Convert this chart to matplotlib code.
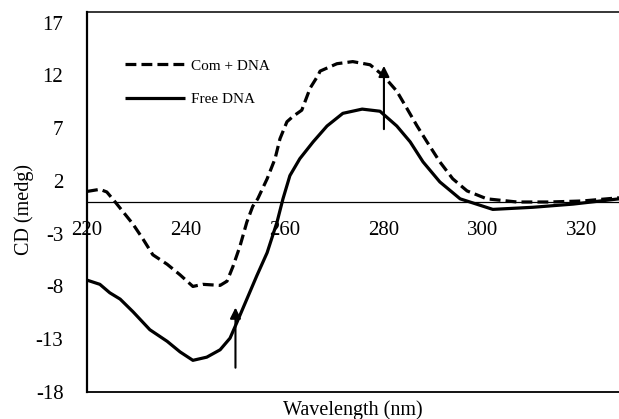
import numpy as np
import matplotlib
matplotlib.use('Agg')
import matplotlib.pyplot as plt

# ---------------------------------
# Datos
# ---------------------------------

wl_com = [220, 222.6, 224.0, 225.7, 229.3, 231.3, 233.3, 236.2, 238.8, 241.4,
          243.4, 246.9, 248.3, 249.5, 250.9, 252.3, 253.5, 254.5, 256.4, 258.0,
          259.0, 260.4, 261.6, 263.4, 265.1, 266.7, 267.1, 270.5, 273.7, 277.2,
          279.8, 282.6, 284.6, 286.7, 288.7, 291.3, 293.9, 296.8, 300.8, 306.9,
          313.5, 320.2, 327.5]
cd_com = [1.0, 1.2, 0.95, 0.0, -2.1, -3.5, -5.0, -5.9, -6.9, -8.0,
          -7.8, -7.9, -7.5, -6.1, -4.2, -1.9, -0.4, 0.3, 2.2, 4.1,
          6.0, 7.6, 8.1, 8.7, 10.8, 12.0, 12.4, 13.1, 13.3, 13.0,
          12.0, 10.5, 8.9, 7.2, 5.7, 3.8, 2.2, 1.05, 0.3, 0.0,
          0.0, 0.1, 0.4]

wl_free = [220, 222.6, 224.6, 226.7, 229.3, 232.7, 236.2, 238.8, 241.4, 244.2,
           246.9, 248.9, 250.3, 252.3, 254.3, 256.4, 258.4, 259.6, 261.0, 263.0,
           265.7, 268.5, 271.7, 275.6, 279.2, 282.6, 285.3, 287.9, 291.3, 295.4,
           302.0, 310.1, 318.2, 327.5]
cd_free = [-7.4, -7.8, -8.6, -9.2, -10.4, -12.1, -13.2, -14.2, -15.0, -14.7,
           -14.0, -12.9, -11.4, -9.2, -7.0, -4.8, -1.9, 0.3, 2.5, 4.1,
           5.7, 7.2, 8.4, 8.8, 8.6, 7.2, 5.7, 3.8, 1.9, 0.3,
           -0.7, -0.5, -0.2, 0.3]

# flechas: x, y inicio, y punta
arrow_x = [250, 280]
arrow_y0 = [-15.7, 6.9]
arrow_y1 = [-10.0, 12.9]

xticks = [220, 240, 260, 280, 300, 320]
yticks = [-18, -13, -8, -3, 2, 7, 12, 17]

# ---------------------------------
# Gráfico
# ---------------------------------

plt.rcParams['font.family'] = ['Liberation Serif', 'DejaVu Serif']
plt.rcParams['axes.unicode_minus'] = False

fig = plt.figure(figsize=(6.19, 4.19), dpi=100)
ax = fig.add_axes([87/619, 27/419, 1 - 87/619, 380/419])

ax.plot(wl_com, cd_com, color='k', lw=2.3, linestyle=(0, (3.4, 1.6)),
        label='Com + DNA')
ax.plot(wl_free, cd_free, color='k', lw=2.3, label='Free DNA',
        solid_capstyle='butt')

for x, y0, y1 in zip(arrow_x, arrow_y0, arrow_y1):
    ax.annotate('', xy=(x, y1), xytext=(x, y0),
                arrowprops=dict(arrowstyle='-|>', color='k', lw=1.5,
                                mutation_scale=16, shrinkA=0, shrinkB=0))

ax.set_xlim(220, 327.5)
ax.set_ylim(-18, 18)

# eje x en cero
ax.spines['bottom'].set_position(('data', 0))
ax.spines['bottom'].set_linewidth(0.9)
ax.spines['right'].set_visible(False)
ax.spines['top'].set_visible(False)
ax.spines['left'].set_linewidth(1.6)
ax.axhline(-18, color='k', lw=1.3, clip_on=False)
ax.axhline(18, color='k', lw=1.1, clip_on=False)

ax.set_xticks(xticks)
ax.set_yticks(yticks)
ax.tick_params(axis='both', length=0, labelsize=15)
ax.tick_params(axis='x', pad=14)
ax.tick_params(axis='y', pad=17)

ax.set_xlabel('Wavelength (nm)', fontsize=14.5)
ax.set_ylabel('CD (medg)', fontsize=14.5)
ax.xaxis.set_label_coords(0.5, -0.022)
ax.yaxis.set_label_coords(-0.1, 0.48)

ax.legend(loc='upper left', bbox_to_anchor=(0.0714, 0.876), frameon=False,
          fontsize=11, handlelength=3.9, handletextpad=0.4, labelspacing=1.3,
          borderpad=0, borderaxespad=0)

fig.savefig('out.png', dpi=100)
